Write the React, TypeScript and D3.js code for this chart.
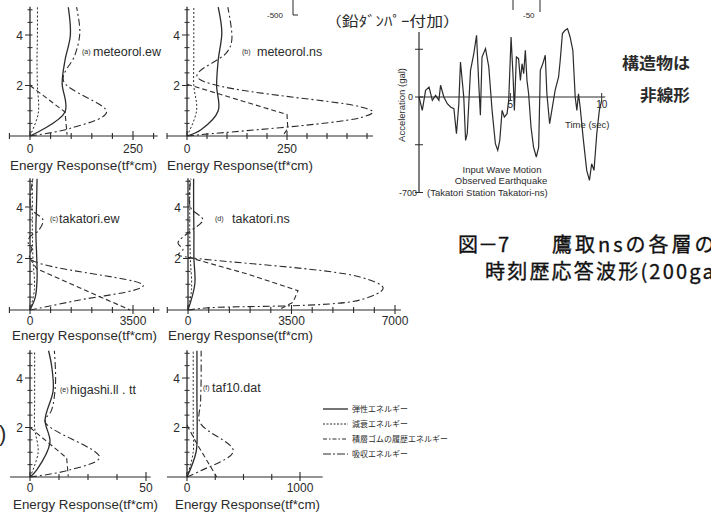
import React from 'react';
import * as d3 from 'd3';

type P = [number, number];

// ---------- energy profiles: [energy, floor] ----------
// (a) meteorol.ew
const aElastic: P[] = [[0, 0], [85, 0.95], [78, 2.1], [85, 3], [98, 4], [93, 5.1]];
const aDamping: P[] = [[0, 0], [20, 0.9], [18, 2], [17, 3], [18, 4], [18, 5.1]];
const aRubber: P[] = [[0, 0], [97, 0.3], [186, 0.95], [81, 2.2], [109, 3.2], [121, 4.1], [113, 5.1]];
const aAbsorbed: P[] = [[0, 2], [85, 0.95], [90, 0.05]];
// (b) meteorol.ns
const bElastic: P[] = [[0, 0], [35, 0.25], [78, 1.0], [74, 2.0], [78, 3.0], [87, 4.1], [78, 5.1]];
const bDamping: P[] = [[0, 0], [24, 1.0], [17, 2], [17, 3], [17, 4], [17, 5.1]];
const bRubber: P[] = [[0, 0], [32, 0.05], [432, 0.72], [465, 0.95], [432, 1.16], [25, 2.36], [99, 3.3], [112, 3.8], [102, 5.1]];
const bAbsorbed: P[] = [[0, 2.05], [250, 0.85], [252, 0.3], [240, 0.02]];
// (c) takatori.ew
const cElastic: P[] = [[0, 0], [180, 0.5], [240, 1.2], [230, 2], [200, 3], [220, 4], [240, 5.1]];
const cDamping: P[] = [[0, 0], [150, 0.8], [100, 2], [80, 3], [80, 4], [80, 5.1]];
const cRubber: P[] = [[0, 0], [1500, 0.35], [3850, 0.95], [0, 2.0], [60, 2.4], [-60, 2.6], [0, 2.85], [270, 3.06], [440, 3.5], [30, 3.95], [100, 5.1]];
const cAbsorbed: P[] = [[0, 2.0], [230, 1.6], [3400, 0]];
// (d) takatori.ns
const dElastic: P[] = [[0, 0], [230, 1], [200, 2], [200, 3], [190, 4], [190, 5.1]];
const dDamping: P[] = [[0, 0], [120, 0.8], [80, 2], [60, 3], [60, 4], [60, 5.1]];
const dRubber: P[] = [[0, 0], [600, 0.08], [5820, 0.39], [6600, 0.85], [5820, 1.28], [0, 2.05], [-330, 2.15], [-170, 2.35], [-340, 2.6], [0, 3.0], [500, 3.5], [80, 4.0], [100, 5.1]];
const dAbsorbed: P[] = [[0, 2.05], [2000, 1.4], [3720, 0.75], [3550, 0.3], [3100, 0.03]];
// (e) higashi.ll.tt
const eElastic: P[] = [[0, 0], [3, 0.3], [8.6, 1.4], [6.5, 2.3], [10, 3.5], [9.3, 4.5], [8, 5.1]];
const eDamping: P[] = [[0, 0], [3.5, 1], [2, 2], [2, 3], [2, 4], [2, 5.1]];
const eRubber: P[] = [[0, 0], [17, 0.28], [30, 0.8], [6.5, 2.23], [9.3, 2.7], [11, 3.8], [10.5, 5.1]];
const eAbsorbed: P[] = [[0, 2], [15.8, 0.77], [16.5, 0.02]];
// (f) taf10.dat
const fElastic: P[] = [[0, 0], [80, 1], [90, 2], [88, 3], [88, 4], [88, 5.1]];
const fDamping: P[] = [[0, 0], [55, 1], [55, 2], [55, 3], [55, 4], [55, 5.1]];
const fRubber: P[] = [[0, 0], [120, 0.25], [410, 1.05], [115, 2.2], [120, 3], [125, 4], [125, 5.1]];
const fAbsorbed: P[] = [[0, 2.1], [80, 1.4], [263, 0]];

const panelTitles = ['meteorol.ew', 'meteorol.ns', 'takatori.ew', 'takatori.ns', 'higashi.ll . tt', 'taf10.dat'];
const panelTags = ['(a)', '(b)', '(c)', '(d)', '(e)', '(f)'];
const axisTitle = 'Energy Response(tf*cm)';
const legendLabels = ['弾性エネルギー', '減衰エネルギー', '積層ゴムの履歴エネルギー', '吸収エネルギー'];

// ---------- input wave (Takatori-ns) ----------
const waveTime = [0, 0.18, 0.36, 0.55, 0.73, 0.91, 1.09, 1.18, 1.36, 1.55, 1.73, 1.91, 2.05, 2.18, 2.27, 2.45, 2.55, 2.64, 2.82, 3.0, 3.15, 3.27, 3.36, 3.45, 3.64, 3.82, 4.0, 4.18, 4.31, 4.42, 4.55, 4.67, 4.82, 4.91, 5.04, 5.15, 5.22, 5.33, 5.45, 5.55, 5.64, 5.73, 5.82, 5.91, 6.0, 6.13, 6.27, 6.42, 6.55, 6.64, 6.78, 6.91, 7.0, 7.15, 7.27, 7.45, 7.64, 7.73, 7.85, 8.0, 8.13, 8.27, 8.42, 8.55, 8.64, 8.73, 8.82, 9.0, 9.18, 9.33, 9.45, 9.58, 9.73, 9.87, 10.0];
const waveAccel = [0, -98, 49, 73, -24, 12, -24, 86, 0, -49, -73, -86, -269, -49, 257, 0, -318, -269, 196, 318, 452, 98, -134, 293, 355, 220, -98, -342, -391, -318, -98, -147, -122, -24, 440, 147, -98, 293, 281, 122, 244, 171, 342, 122, 24, -220, -367, -440, -367, 196, 245, 306, 24, -196, -98, 49, 147, 269, 465, 489, 501, 440, 342, 0, -98, 24, -73, -318, -538, -611, -489, -538, -269, -98, -24];
const waveYTicks = [350, 0, -350, -700];
const waveXTicks = [5, 10];

// ---------- layout ----------
const INK = '#2b2b2b';
const SANS = '"Liberation Sans", Arial, Helvetica, sans-serif';
const JP = '"Noto Sans CJK JP", "Noto Sans", sans-serif';

const seriesStyles = [
  { dash: undefined as string | undefined, w: 1.3 },
  { dash: '2,2', w: 1 },
  { dash: '7,3,2,3', w: 1.1 },
  { dash: '5,3', w: 1.1 },
];

const layouts = [
  { x0: 30, xRef: 250, xRefPx: 133, y0: 136, y4: 35, from: -50, to: 310, step: 50, labels: [0, 250], clipR: 711, tagX: 82, titleX: 93, titleY: 56, labY: 152.5, axY: 170, axX: 10, axW: 147 },
  { x0: 187, xRef: 250, xRefPx: 287, y0: 136, y4: 35, from: -50, to: 465, step: 50, labels: [0, 250], clipR: 380, tagX: 242, titleX: 257, titleY: 56, labY: 152.5, axY: 170, axX: 167, axW: 146 },
  { x0: 30, xRef: 3500, xRefPx: 133, y0: 310, y4: 207, from: -700, to: 4400, step: 700, labels: [0, 3500], clipR: 711, tagX: 50, titleX: 59, titleY: 223, labY: 324.5, axY: 340, axX: 12, axW: 145 },
  { x0: 188, xRef: 3500, xRefPx: 291.5, y0: 310, y4: 207, from: -700, to: 7200, step: 700, labels: [0, 3500, 7000], clipR: 405, tagX: 215, titleX: 232, titleY: 223, labY: 324.5, axY: 340, axX: 168, axW: 145 },
  { x0: 30, xRef: 50, xRefPx: 146, y0: 477, y4: 378, from: -8.6, to: 52, step: 12.5, labels: [0, 50], clipR: 711, tagX: 60, titleX: 70, titleY: 394, labY: 491.5, axY: 509, axX: 13, axW: 145 },
  { x0: 187, xRef: 1000, xRefPx: 300, y0: 477, y4: 378, from: -177, to: 1200, step: 250, labels: [0, 1000], clipR: 711, tagX: 203, titleX: 212, titleY: 392, labY: 491.5, axY: 509, axX: 175, axW: 145 },
];

const panelSeries: P[][][] = [
  [aElastic, aDamping, aRubber, aAbsorbed],
  [bElastic, bDamping, bRubber, bAbsorbed],
  [cElastic, cDamping, cRubber, cAbsorbed],
  [dElastic, dDamping, dRubber, dAbsorbed],
  [eElastic, eDamping, eRubber, eAbsorbed],
  [fElastic, fDamping, fRubber, fAbsorbed],
];

function Panel({ i }: { i: number }) {
  const L = layouts[i];
  const x = d3.scaleLinear().domain([0, L.xRef]).range([L.x0, L.xRefPx]);
  const y = d3.scaleLinear().domain([0, 4]).range([L.y0, L.y4]);
  const smooth = d3.line<P>().x(d => x(d[0])).y(d => y(d[1])).curve(d3.curveCatmullRom.alpha(0.5));
  const straight = d3.line<P>().x(d => x(d[0])).y(d => y(d[1]));
  const xTicks: number[] = [];
  for (let v = Math.ceil(L.from / L.step) * L.step; v <= L.to + 1e-9; v += L.step) xTicks.push(v);
  const yTicks = d3.range(0.5, 5.01, 0.5);
  const clipId = `clip${i}`;
  return (
    <g>
      <defs>
        <clipPath id={clipId}>
          <rect x={0} y={0} width={L.clipR} height={515} />
        </clipPath>
      </defs>
      <line x1={x(L.from)} x2={x(L.to)} y1={L.y0} y2={L.y0} stroke={INK} strokeWidth={1.2} />
      {xTicks.map(v => {
        const major = L.labels.includes(v);
        return <line key={v} x1={x(v)} x2={x(v)} y1={L.y0 - (major ? 5 : 3)} y2={L.y0 + (major ? 4 : 3)} stroke={INK} strokeWidth={1.1} />;
      })}
      {L.labels.map(v => (
        <text key={v} x={x(v)} y={L.labY} fontSize={12} fontFamily={SANS} fill={INK} textAnchor="middle">{v}</text>
      ))}
      <line x1={L.x0} x2={L.x0} y1={L.y0} y2={y(5.12)} stroke={INK} strokeWidth={1.3} />
      {yTicks.map(v => {
        const major = v === 2 || v === 4;
        return <line key={v} x1={L.x0 - (major ? 5 : 2.5)} x2={L.x0 + 2.5} y1={y(v)} y2={y(v)} stroke={INK} strokeWidth={1} />;
      })}
      {[2, 4].map(v => (
        <text key={v} x={L.x0 - 7} y={y(v) + 4.5} fontSize={12} fontFamily={SANS} fill={INK} textAnchor="end">{v}</text>
      ))}
      <g clipPath={`url(#${clipId})`}>
        {panelSeries[i].map((s, k) => (
          <path key={k} d={(k === 3 ? straight : smooth)(s) || ''} fill="none" stroke={INK}
            strokeWidth={seriesStyles[k].w} strokeDasharray={seriesStyles[k].dash} />
        ))}
      </g>
      <text x={L.tagX} y={L.titleY - 2} fontSize={7} fontFamily={SANS} fill={INK}>{panelTags[i]}</text>
      <text x={L.titleX} y={L.titleY} fontSize={12.5} fontFamily={SANS} fill={INK}>{panelTitles[i]}</text>
      <text x={L.axX} y={L.axY} fontSize={12} fontFamily={SANS} fill={INK} textLength={L.axW} lengthAdjust="spacingAndGlyphs">{axisTitle}</text>
    </g>
  );
}

function Wave() {
  const x = d3.scaleLinear().domain([0, 10]).range([419, 601.7]);
  const y = d3.scaleLinear().domain([0, -700]).range([97, 192.5]);
  const pts: P[] = waveTime.map((t, k) => [t, waveAccel[k]]);
  const line = d3.line<P>().x(d => x(d[0])).y(d => y(d[1]));
  return (
    <g>
      <line x1={x(0)} x2={x(0)} y1={32} y2={y(-700)} stroke={INK} strokeWidth={1.2} />
      {waveYTicks.map(v => (
        <line key={v} x1={x(0) - 4} x2={x(0) + 4} y1={y(v)} y2={y(v)} stroke={INK} strokeWidth={1} />
      ))}
      <line x1={x(0)} x2={x(10.2)} y1={y(0)} y2={y(0)} stroke={INK} strokeWidth={1} />
      {waveXTicks.map(v => (
        <line key={v} x1={x(v)} x2={x(v)} y1={y(0) - 4} y2={y(0) + 4} stroke={INK} strokeWidth={1} />
      ))}
      <path d={line(pts) || ''} fill="none" stroke={INK} strokeWidth={1.2} />
      <text x={x(0) - 6} y={y(0) + 3} fontSize={9} fontFamily={SANS} fill={INK} textAnchor="end">0</text>
      <text x={x(0) - 2} y={y(-700) + 3} fontSize={9} fontFamily={SANS} fill={INK} textAnchor="end">-700</text>
      <text x={x(5)} y={y(0) + 11} fontSize={10} fontFamily={SANS} fill={INK} textAnchor="middle">5</text>
      <text x={x(10)} y={y(0) + 11} fontSize={10} fontFamily={SANS} fill={INK} textAnchor="middle">10</text>
      <text x={565} y={128} fontSize={9.5} fontFamily={SANS} fill={INK}>Time (sec)</text>
      <text transform="translate(405,105) rotate(-90)" fontSize={9.5} fontFamily={SANS} fill={INK} textAnchor="middle">Acceleration (gal)</text>
      <text x={502} y={173} fontSize={9.5} fontFamily={SANS} fill={INK} textAnchor="middle">Input Wave Motion</text>
      <text x={501} y={183.5} fontSize={9.5} fontFamily={SANS} fill={INK} textAnchor="middle">Observed Earthquake</text>
      <text x={427} y={196} fontSize={9.5} fontFamily={SANS} fill={INK}>(Takatori Station   Takatori-ns)</text>
    </g>
  );
}

function Legend() {
  const rows = [409, 424, 439, 454];
  return (
    <g>
      {legendLabels.map((lab, k) => (
        <g key={k}>
          <line x1={323} x2={348} y1={rows[k]} y2={rows[k]} stroke={INK} strokeWidth={seriesStyles[k].w} strokeDasharray={k === 1 ? '2,1.5' : k === 2 ? '4,2,1.5,2' : k === 3 ? '8,2,2,2' : undefined} />
          <text x={352} y={rows[k] + 3} fontSize={8} fontFamily={JP} fill={INK}>{lab}</text>
        </g>
      ))}
    </g>
  );
}

export default function App() {
  return (
    <svg width={711} height={515} style={{ position: 'absolute', left: 0, top: 0, background: '#fff' }}>
      <rect width={711} height={515} fill="#fff" />
      {layouts.map((_, i) => <Panel key={i} i={i} />)}
      <Wave />
      <Legend />
      <text x={267} y={18} fontSize={8} fontFamily={SANS} fill={INK}>-500</text>
      <path d="M293,0 V15 H298" fill="none" stroke={INK} strokeWidth={1} />
      <text x={523} y={18} fontSize={8} fontFamily={SANS} fill={INK}>-50</text>
      <path d="M513,0 V10 M540,0 V12" fill="none" stroke={INK} strokeWidth={1} />
      <text x={325} y={26} fontSize={14} fontFamily={JP} fill={INK} textLength={135} lengthAdjust="spacingAndGlyphs">（鉛ﾀﾞﾝﾊﾟｰ付加）</text>
      <text x={622} y={69} fontSize={16} fontWeight="bold" fontFamily={JP} fill={INK} textLength={68} lengthAdjust="spacingAndGlyphs">構造物は</text>
      <text x={640} y={101} fontSize={16} fontWeight="bold" fontFamily={JP} fill={INK} textLength={50} lengthAdjust="spacingAndGlyphs">非線形</text>
      <g fontFamily={JP} fontSize={20} fill="#111" stroke="#111" strokeWidth={0.35}>
        <text x={458} y={252}>図－7</text>
        <text x={552} y={252} style={{ letterSpacing: '3px' }}>鷹取nsの各層の</text>
        <text x={485} y={279} style={{ letterSpacing: '2.2px' }}>時刻歴応答波形(200gal)</text>
      </g>
      <text x={-1} y={441} fontSize={22} fontFamily={SANS} fill={INK}>)</text>
    </svg>
  );
}
